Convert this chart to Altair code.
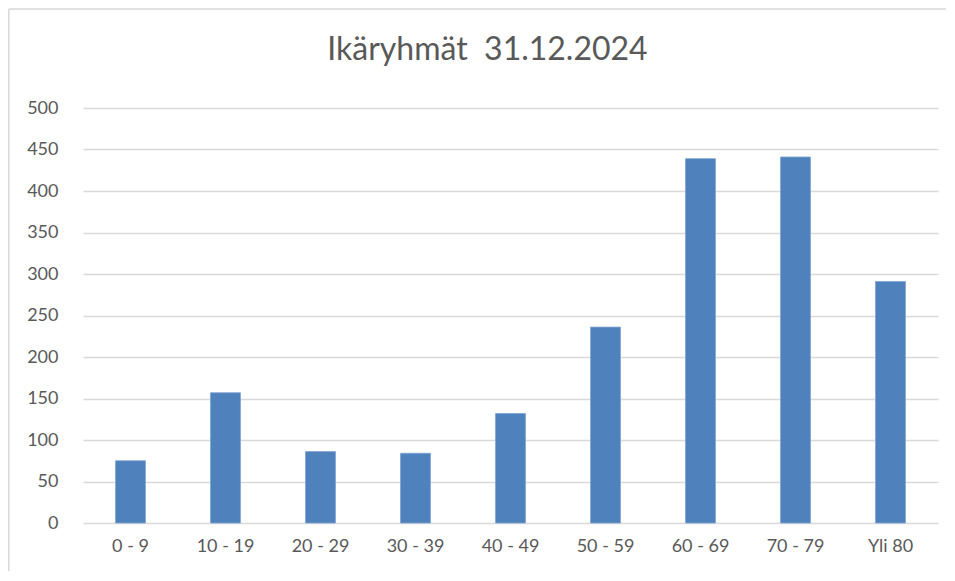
import altair as alt
import pandas as pd

categories = ["0 - 9", "10 - 19", "20 - 29", "30 - 39", "40 - 49", "50 - 59", "60 - 69", "70 - 79", "Yli 80"]
values = [75, 157, 86, 84, 132, 236, 439, 441, 291]

df = pd.DataFrame({"ika": categories, "lkm": values})

FONT = "Lato"
GREY = "#595959"

bars = alt.Chart(df).mark_bar(color="#4F81BD", stroke="#7FA3D1", strokeWidth=0.8).encode(
    x=alt.X("ika:N", sort=categories, title=None,
            scale=alt.Scale(paddingInner=0.685, paddingOuter=0.3425),
            axis=alt.Axis(labelAngle=0, labelFont=FONT, labelFontSize=18, labelColor=GREY,
                          domain=False, ticks=False, labelPadding=14)),
    y=alt.Y("lkm:Q", title=None,
            scale=alt.Scale(domain=[0, 500], nice=False),
            axis=alt.Axis(values=list(range(0, 501, 50)), labelFont=FONT, labelFontSize=18,
                          labelColor=GREY, domain=False, ticks=False, labelPadding=25,
                          gridColor="#D9D9D9", gridWidth=1.3)),
)

frame_src = pd.DataFrame({"a": [0]})
top_line = alt.Chart(frame_src).mark_rule(color="#D9D9D9", strokeWidth=1.5, clip=False).encode(
    x=alt.value(-74.2), x2=alt.value(870), y=alt.value(-99)
)
left_line = alt.Chart(frame_src).mark_rule(color="#D9D9D9", strokeWidth=1.5, clip=False).encode(
    x=alt.value(-74.2), y=alt.value(-99), y2=alt.value(470)
)

chart = alt.layer(top_line, left_line, bars).properties(
    width=855,
    height=415,
    title=alt.TitleParams("Ikäryhmät\u00a0\u00a031.12.2024", font=FONT, fontSize=32, color=GREY,
                          fontWeight="normal", anchor="middle", offset=-59, dx=-23),
    autosize=alt.AutoSizeParams(type="none"),
    padding={"left": 75, "top": 100, "right": 8, "bottom": 48},
).configure_view(stroke=None)

chart.save("out.html", embed_options={"renderer": "svg", "actions": False})
